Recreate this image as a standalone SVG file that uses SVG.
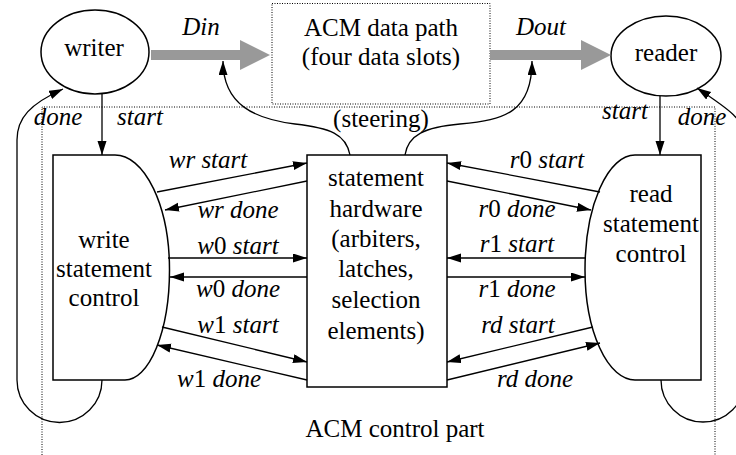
<svg xmlns="http://www.w3.org/2000/svg" width="736" height="455" viewBox="0 0 736 455">
<style>
.it{font-style:italic}
.up{font-style:normal}
.sh{fill:#fff;stroke:#000;stroke-width:1.5}
.dot{fill:none;stroke:#000;stroke-width:1;stroke-dasharray:1,1.5}
.ln{fill:none;stroke:#000;stroke-width:1.3;marker-end:url(#ah)}
.gray{fill:#999;stroke:none}
</style>
<defs>
<marker id="ah" markerUnits="userSpaceOnUse" markerWidth="16" markerHeight="12" refX="14" refY="4.5" orient="auto">
<path d="M0,0 L14,4.5 L0,9 Z" fill="#000"/>
</marker>
</defs>
<rect width="736" height="455" fill="#fff"/>
<g id="control-part">
<path class="dot" d="M42,455 V107 H715 V455"/>
<text font-family="Liberation Serif, serif" font-size="25" text-anchor="middle" x="395" y="437">ACM control part</text>
</g>
<g id="data-path">
<rect class="dot" x="272" y="3.5" width="218" height="100.5"/>
<text font-family="Liberation Serif, serif" font-size="25" text-anchor="middle" x="381" y="36">ACM data path</text>
<text font-family="Liberation Serif, serif" font-size="25" text-anchor="middle" x="381" y="65">(four data slots)</text>
</g>
<g id="writer">
<ellipse class="sh" cx="95" cy="52" rx="54" ry="42"/>
<text font-family="Liberation Serif, serif" font-size="25" text-anchor="middle" x="94" y="56">writer</text>
</g>
<g id="reader">
<ellipse class="sh" cx="666" cy="56" rx="55" ry="40"/>
<text font-family="Liberation Serif, serif" font-size="25" text-anchor="middle" x="666" y="61">reader</text>
</g>
<g id="write-control">
<path class="sh" d="M53,155 H115 A54.5,115 0 0 1 169.5,270 A44.5,110 0 0 1 125,380 H53 Z"/>
<text font-family="Liberation Serif, serif" font-size="25" text-anchor="middle" x="104" y="248">write</text>
<text font-family="Liberation Serif, serif" font-size="25" text-anchor="middle" x="104" y="277">statement</text>
<text font-family="Liberation Serif, serif" font-size="25" text-anchor="middle" x="104" y="306">control</text>
</g>
<g id="read-control">
<path class="sh" d="M701,155 H635 A50,115 0 0 0 585,270 A50,110 0 0 0 635,380 H701 Z"/>
<text font-family="Liberation Serif, serif" font-size="25" text-anchor="middle" x="651" y="202">read</text>
<text font-family="Liberation Serif, serif" font-size="25" text-anchor="middle" x="651" y="232">statement</text>
<text font-family="Liberation Serif, serif" font-size="25" text-anchor="middle" x="651" y="262">control</text>
</g>
<g id="statement-hardware">
<rect class="sh" x="307" y="155" width="140" height="232"/>
<text font-family="Liberation Serif, serif" font-size="25" text-anchor="middle" x="376" y="186">statement</text>
<text font-family="Liberation Serif, serif" font-size="25" text-anchor="middle" x="376" y="216.5">hardware</text>
<text font-family="Liberation Serif, serif" font-size="25" text-anchor="middle" x="376" y="247">(arbiters,</text>
<text font-family="Liberation Serif, serif" font-size="25" text-anchor="middle" x="376" y="277">latches,</text>
<text font-family="Liberation Serif, serif" font-size="25" text-anchor="middle" x="376" y="307.5">selection</text>
<text font-family="Liberation Serif, serif" font-size="25" text-anchor="middle" x="376" y="339">elements)</text>
</g>
<g id="connectors">
<path class="gray" d="M151,50 H240 V40 L270,55 L240,70 V60 H151 Z"/>
<path class="gray" d="M490,50 H581 V40 L611,55 L581,70 V60 H490 Z"/>
<text class="it" font-family="Liberation Serif, serif" font-size="25" text-anchor="middle" x="201" y="35">Din</text>
<text class="it" font-family="Liberation Serif, serif" font-size="25" text-anchor="middle" x="541" y="35">Dout</text>
<path class="ln" d="M350,155 C346,134 330,128 295,124 C255,119 223,105 223,61"/>
<path class="ln" d="M405,155 C408,135 425,127 460,124 C505,120 532,112 532,61"/>
<text font-family="Liberation Serif, serif" font-size="25" text-anchor="middle" x="381" y="127">(steering)</text>
<path class="ln" d="M102,94 V155"/>
<path class="ln" d="M660,96 V155"/>
<path class="ln" d="M102,380 A42.5,42.5 0 0 1 17,380 V140 C17,118 30,104 63,89"/>
<path class="ln" d="M661,380 A42,42 0 0 0 745,380 V140 C745,120 730,110 697,88"/>
<text class="it" font-family="Liberation Serif, serif" font-size="25" text-anchor="middle" x="58" y="125">done</text>
<text class="it" font-family="Liberation Serif, serif" font-size="25" text-anchor="middle" x="140" y="125">start</text>
<text class="it" font-family="Liberation Serif, serif" font-size="25" text-anchor="middle" x="625" y="119">start</text>
<text class="it" font-family="Liberation Serif, serif" font-size="25" text-anchor="middle" x="702" y="125">done</text>
<path class="ln" d="M157,192 L307,163"/>
<path class="ln" d="M307,181 L165,210"/>
<path class="ln" d="M168,258 L307,258"/>
<path class="ln" d="M307,277 L170,277"/>
<path class="ln" d="M162,327 L307,362"/>
<path class="ln" d="M307,380 L157,345"/>
<path class="ln" d="M600,192 L447,163"/>
<path class="ln" d="M447,181 L591,210"/>
<path class="ln" d="M586,258 L447,258"/>
<path class="ln" d="M447,277 L585,277"/>
<path class="ln" d="M593,327 L447,362"/>
<path class="ln" d="M447,380 L600,343"/>
<text class="it" font-family="Liberation Serif, serif" font-size="25" text-anchor="middle" x="208" y="168">wr start</text>
<text class="it" font-family="Liberation Serif, serif" font-size="25" text-anchor="middle" x="238" y="218">wr done</text>
<text class="it" font-family="Liberation Serif, serif" font-size="25" text-anchor="middle" x="238" y="254">w<tspan class="up">0</tspan> start</text>
<text class="it" font-family="Liberation Serif, serif" font-size="25" text-anchor="middle" x="238" y="297">w<tspan class="up">0</tspan> done</text>
<text class="it" font-family="Liberation Serif, serif" font-size="25" text-anchor="middle" x="238" y="333">w<tspan class="up">1</tspan> start</text>
<text class="it" font-family="Liberation Serif, serif" font-size="25" text-anchor="middle" x="219" y="387">w<tspan class="up">1</tspan> done</text>
<text class="it" font-family="Liberation Serif, serif" font-size="25" text-anchor="middle" x="547" y="168">r<tspan class="up">0</tspan> start</text>
<text class="it" font-family="Liberation Serif, serif" font-size="25" text-anchor="middle" x="517" y="217">r<tspan class="up">0</tspan> done</text>
<text class="it" font-family="Liberation Serif, serif" font-size="25" text-anchor="middle" x="517" y="252">r<tspan class="up">1</tspan> start</text>
<text class="it" font-family="Liberation Serif, serif" font-size="25" text-anchor="middle" x="517" y="297">r<tspan class="up">1</tspan> done</text>
<text class="it" font-family="Liberation Serif, serif" font-size="25" text-anchor="middle" x="518" y="333">rd start</text>
<text class="it" font-family="Liberation Serif, serif" font-size="25" text-anchor="middle" x="535" y="387">rd done</text>
</g>
</svg>
